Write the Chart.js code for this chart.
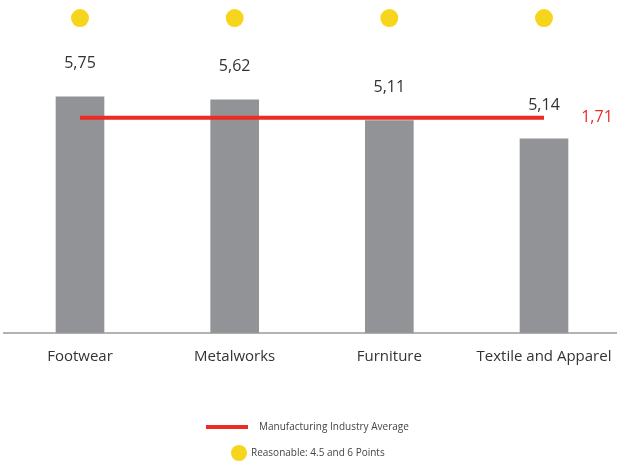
<!DOCTYPE html>
<html>
<head>
<meta charset="utf-8">
<script src="https://cdn.jsdelivr.net/npm/chart.js@4.4.1/dist/chart.umd.min.js"></script>
<style>
  html, body { margin: 0; padding: 0; background: #fff; }
  #wrap { width: 617px; height: 462px; }
</style>
</head>
<body>
<div id="wrap"><canvas id="chart" width="617" height="462"></canvas></div>
<script>
// Dane
const categories = ['Footwear', 'Metalworks', 'Furniture', 'Textile and Apparel'];
const barValues = [5.75, 5.68, 5.17, 4.73];          // wysokosci slupkow
const barLabels = ['5,75', '5,62', '5,11', '5,14'];  // podpisy nad slupkami
const averageValues = [5.24, 5.24, 5.24, 5.24];      // srednia branzy
const averageLabel = '1,71';
const markerValues = [7.67, 7.67, 7.67, 7.67];       // zolte kropki
const legendLine = 'Manufacturing Industry Average';
const legendDot = 'Reasonable: 4.5 and 6 Points';

const GRAY = '#929396';
const RED = '#ee2a24';
const YELLOW = '#f7d51d';
const FONT = '"Open Sans", "DejaVu Sans", sans-serif';

// Plugin rysujacy os, podpisy i legende
const extras = {
    id: 'extras',
    afterDatasetsDraw(chart) {
        const ctx = chart.ctx;
        const x = chart.scales.x;
        const y = chart.scales.y;
        const base = y.getPixelForValue(0);

        ctx.save();
        // os pozioma
        ctx.strokeStyle = '#9a9a9a';
        ctx.lineWidth = 1.5;
        ctx.beginPath();
        ctx.moveTo(3, base);
        ctx.lineTo(chart.width, base);
        ctx.stroke();

        // podpisy wartosci
        ctx.fillStyle = '#333';
        ctx.font = '16px ' + FONT;
        ctx.textAlign = 'center';
        ctx.textBaseline = 'middle';
        const bars = chart.getDatasetMeta(0).data;
        bars.forEach((bar, i) => {
            ctx.fillText(barLabels[i], bar.x, bar.y - 33);
        });

        // kategorie
        ctx.fillStyle = '#333';
        ctx.font = '15px ' + FONT;
        categories.forEach((c, i) => {
            ctx.fillText(c, x.getPixelForValue(i), base + 24);
        });

        // podpis sredniej
        const pts = chart.getDatasetMeta(1).data;
        const last = pts[pts.length - 1];
        ctx.fillStyle = RED;
        ctx.font = '16px ' + FONT;
        ctx.fillText(averageLabel, last.x + 53, last.y);

        // legenda
        ctx.strokeStyle = RED;
        ctx.lineWidth = 4;
        ctx.beginPath();
        ctx.moveTo(206, 427);
        ctx.lineTo(248, 427);
        ctx.stroke();
        ctx.fillStyle = '#444';
        ctx.font = '10px ' + FONT;
        ctx.textAlign = 'left';
        ctx.fillText(legendLine, 259, 427);

        ctx.fillStyle = YELLOW;
        ctx.beginPath();
        ctx.arc(239, 453, 8, 0, Math.PI * 2);
        ctx.fill();
        ctx.fillStyle = '#444';
        ctx.fillText(legendDot, 251, 453);
        ctx.restore();
    }
};

new Chart(document.getElementById('chart'), {
    type: 'bar',
    data: {
        labels: categories,
        datasets: [
            {
                type: 'bar',
                data: barValues,
                backgroundColor: GRAY,
                barThickness: 48,
                clip: false,
                order: 3
            },
            {
                type: 'line',
                data: averageValues,
                borderColor: RED,
                borderWidth: 4,
                pointRadius: 0,
                fill: false,
                clip: false,
                order: 1
            },
            {
                type: 'line',
                data: markerValues,
                showLine: false,
                pointRadius: 9,
                pointBackgroundColor: YELLOW,
                pointBorderWidth: 0,
                clip: false,
                order: 2
            }
        ]
    },
    options: {
        responsive: false,
        animation: false,
        devicePixelRatio: 1,
        layout: { padding: { left: 80, right: 73, top: 3, bottom: 129 } },
        plugins: { legend: { display: false }, tooltip: { enabled: false } },
        scales: {
            x: { display: false, offset: false },
            y: { display: false, min: 0, max: 7.89 }
        }
    },
    plugins: [extras]
});
</script>
</body>
</html>
